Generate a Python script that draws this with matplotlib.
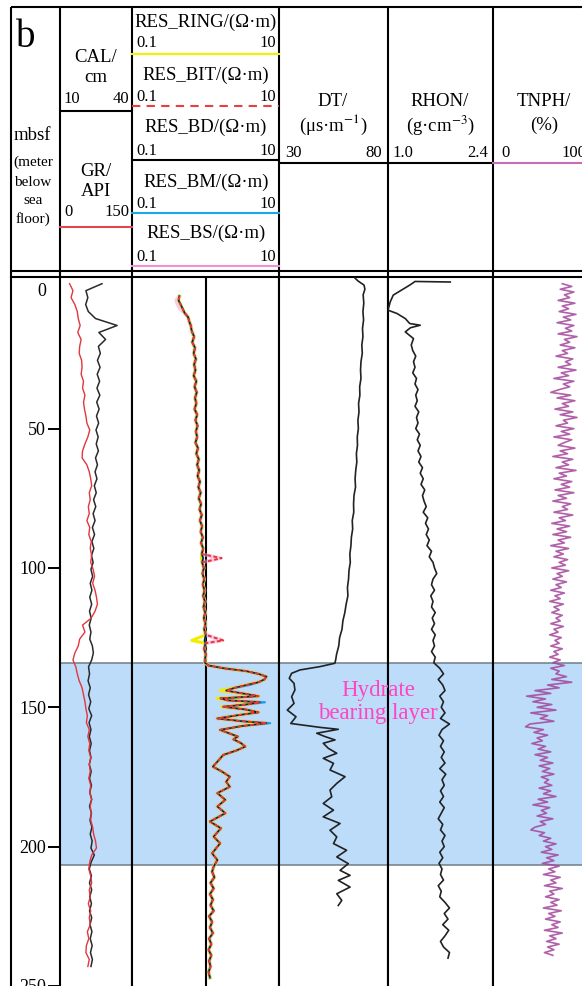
import numpy as np
import matplotlib
matplotlib.use("Agg")
import matplotlib.pyplot as plt

W, H = 582, 986

# ---------------- log data (depth in mbsf) ----------------
# CAL (cm) and GR (API), sampled every 2.5 m
gr_cal_depth = np.arange(-2, 243.5, 2.5)
gr = [20, 27, 23, 31, 36, 38, 42, 37, 44, 41,
      40, 45, 46, 44, 49, 47, 52, 49, 51, 54,
      56, 62, 58, 52, 47, 46, 56, 61, 64, 66,
      61, 63, 59, 61, 56, 62, 60, 65, 63, 66,
      64, 69, 72, 68, 73, 76, 78, 73, 65, 47,
      52, 41, 38, 31, 27, 33, 36, 40, 46, 49,
      52, 54, 57, 55, 61, 58, 62, 60, 64, 61,
      63, 60, 64, 62, 66, 63, 65, 64, 68, 70,
      74, 76, 66, 62, 60, 64, 66, 61, 63, 59,
      64, 61, 63, 57, 60, 55, 54, 61, 58]
cal = [27.5, 20.8, 21.6, 20.7, 21.8, 24.8, 33.8, 26.2, 29.0, 26.0,
       26.8, 25.6, 26.7, 25.5, 26.5, 25.4, 26.6, 25.3, 26.3, 25.2,
       26.1, 25.0, 25.9, 25.1, 26.0, 24.8, 25.6, 24.6, 25.4, 24.3,
       25.1, 24.0, 24.9, 23.8, 24.6, 23.5, 24.4, 23.3, 24.1, 23.1,
       23.8, 22.9, 23.6, 22.6, 23.3, 22.4, 23.2, 22.3, 23.0, 22.2,
       22.9, 22.4, 23.5, 23.9, 23.2, 21.9, 22.3, 21.7, 22.6, 21.9,
       22.8, 22.0, 23.2, 22.1, 22.9, 22.2, 23.0, 22.3, 22.9, 22.2,
       23.0, 22.3, 23.1, 22.4, 23.2, 22.3, 23.1, 22.5, 23.3, 22.6,
       23.4, 22.9, 24.3, 23.0, 22.2, 23.1, 22.3, 23.2, 22.4, 23.1,
       22.3, 23.2, 22.5, 23.3, 22.6, 23.4, 22.7, 23.5, 22.9]

# resistivity (ohm.m); the five tools read almost the same, RES_BD is the base
res_depth = ([2.5, 4, 5.5, 7, 8.5, 10, 11.5, 13] + list(range(15, 96, 2)) + [96.5, 98]
             + list(range(100, 125, 2)) + [126, 127, 129, 131, 133] + list(range(134, 147))
             + [146.8, 147.5, 148.2, 149, 149.8, 150.8, 151.8, 152.8, 154, 155, 155.7, 156.7,
                158.1, 159.3, 160.5, 161.5, 162.8, 164.1, 165.5, 167.1, 169, 171.3, 173,
                174.9, 176.7, 178.5, 180.8, 183.2, 185.6, 188, 191, 193.4, 196.4, 198.8,
                202.4, 204.8, 207.2] + list(range(209, 248, 2)))
res_bd = [0.44, 0.43, 0.46, 0.49, 0.52, 0.58, 0.60, 0.63,
          0.65, 0.70, 0.66, 0.72, 0.69, 0.74, 0.70, 0.73, 0.69, 0.75, 0.71, 0.76, 0.72,
          0.75, 0.71, 0.77, 0.73, 0.78, 0.74, 0.77, 0.73, 0.79, 0.75, 0.81, 0.77, 0.82,
          0.78, 0.84, 0.80, 0.86, 0.81, 0.87, 0.83, 0.89, 0.84, 0.90, 0.86, 0.92, 0.87,
          0.93, 0.89,
          0.93, 0.90,
          0.95, 0.91, 0.96, 0.92, 0.97, 0.93, 0.98, 0.94, 0.99, 0.95, 1.00, 0.96, 1.01,
          0.97, 1.00, 0.96, 1.01, 0.98,
          0.98, 1.10, 1.78, 3.55, 5.25, 6.76, 6.31, 5.25, 3.55, 2.51, 1.91, 3.16, 5.25,
          1.60, 2.00, 5.50, 3.55, 1.74, 3.55, 5.25, 2.82, 1.45, 3.16, 6.76, 3.16,
          1.58, 2.09, 2.75, 2.40, 3.02, 3.47, 2.63, 1.74, 1.51, 1.26, 1.66, 2.14, 1.91,
          2.14, 1.45, 1.86, 1.45, 1.86, 1.15, 1.62, 1.29, 1.58, 1.23, 1.45, 1.29,
          1.23, 1.32, 1.17, 1.29, 1.15, 1.26, 1.17, 1.29, 1.12, 1.23, 1.15, 1.26, 1.12,
          1.20, 1.10, 1.20, 1.12, 1.17, 1.10, 1.15]
# places where the other tools part from RES_BD
res_ring_spots = {96.5: 0.88, 126: 0.65, 144: 1.58, 146.8: 1.45, 149.8: 1.66, 154: 1.45}
res_bit_spots = {96.5: 1.66, 126: 1.74}
res_bm_spots = {142: 3.98, 148.2: 6.46, 155.7: 7.59}
res_bs_spots = {4: 0.40, 5.5: 0.42, 7: 0.45, 96.5: 1.55, 126: 1.70}

# DT (us/m)
dt_depth = ([-4, -3, -1.5, 0, 2] + list(range(5, 132, 3)) + [133]
            + [134.2, 135.4, 136.6, 137.8, 139.6, 141.4, 143.8, 146.2, 148.6, 151, 153.4, 155.8,
               157.2, 157.9, 159.3, 160.5, 161.7, 162.9, 164.7, 166.5, 168.3, 170.1, 172.5,
               174.9, 177.3, 179.7, 182.1, 184.5, 186.9, 189.3, 191.7, 194.1, 196.5, 198.9,
               201.3, 203.7, 206.1, 208.5, 210.3, 212.1, 214.5, 216.9, 219.3, 221.1])
dt = [64.9, 66.2, 69.0, 69.4, 68.6,
      68.9, 68.5, 68.8, 68.3, 68.5, 68.0, 68.2, 67.6, 67.4, 67.6, 67.0, 67.1, 66.5, 66.7,
      66.2, 66.4, 65.9, 66.0, 65.5, 65.7, 65.2, 64.9, 65.1, 64.4, 64.2, 64.3, 63.6, 63.8,
      63.2, 63.0, 62.5, 62.7, 62.1, 61.9, 61.4, 61.6, 60.8, 60.2, 59.3, 58.9, 57.8, 57.4,
      56.4, 56.0,
      55.6, 48.8, 39.6, 35.8, 34.7, 36.9, 37.3, 35.8, 36.9, 33.8, 37.8, 35.4,
      48.8, 57.2, 47.3, 51.1, 55.7, 50.3, 52.6, 56.5, 50.3, 55.0, 53.4, 60.3, 56.5, 53.4,
      54.2, 50.3, 55.0, 50.3, 58.0, 53.4, 56.5, 55.0, 61.0, 56.5, 61.8, 58.0, 62.6, 57.2,
      62.6, 56.5, 58.8, 57.2]

# RHON (g/cm3)
rhon_depth = ([-2.6, -2.8, -2.4, -1.5, 0.3, 2.1, 4.5, 7.5, 8.7, 10.5, 12.3, 12.9, 13.8, 15.3, 17.7]
              + list(range(20, 241, 2)))
rhon = [1.83, 1.36, 1.34, 1.29, 1.18, 1.07, 1.03, 1.00, 1.12, 1.23, 1.29, 1.43, 1.30, 1.23, 1.34,
        1.31, 1.33, 1.37, 1.34, 1.36, 1.33, 1.38, 1.36, 1.40, 1.37,
        1.39, 1.36, 1.41, 1.38, 1.40, 1.37, 1.42, 1.39, 1.43, 1.40,
        1.44, 1.41, 1.46, 1.43, 1.47, 1.44, 1.49, 1.46, 1.48, 1.51,
        1.47, 1.53, 1.50, 1.54, 1.51, 1.55, 1.52, 1.58, 1.55, 1.60,
        1.62, 1.65, 1.60, 1.58, 1.62, 1.57, 1.60, 1.58, 1.63, 1.59,
        1.62, 1.58, 1.63, 1.60, 1.62, 1.58, 1.63, 1.61, 1.69, 1.74,
        1.67, 1.73, 1.76, 1.69, 1.74, 1.71, 1.76, 1.70, 1.82, 1.72,
        1.68, 1.74, 1.70, 1.75, 1.71, 1.76, 1.69, 1.77, 1.72, 1.75,
        1.70, 1.74, 1.69, 1.75, 1.71, 1.67, 1.73, 1.70, 1.76, 1.72,
        1.75, 1.69, 1.73, 1.68, 1.72, 1.70, 1.74, 1.67, 1.71, 1.69,
        1.76, 1.82, 1.75, 1.80, 1.73, 1.81, 1.76, 1.70, 1.74, 1.82,
        1.80]

# TNPH (%), every 1 m
tnph_depth = np.arange(-2, 239.5, 1)
tnph = [66, 75, 64, 77, 68, 73, 62, 78, 66, 72,
        63, 79, 67, 74, 61, 77, 69, 75, 62, 80,
        68, 73, 64, 78, 66, 71, 60, 76, 69, 74,
        62, 79, 65, 72, 58, 77, 67, 73, 63, 55,
        74, 61, 78, 66, 72, 59, 76, 64, 80, 67,
        71, 60, 77, 65, 73, 58, 75, 68, 62, 78,
        64, 71, 57, 76, 66, 72, 60, 79, 63, 70,
        58, 75, 65, 73, 59, 77, 62, 70, 57, 74,
        66, 71, 58, 76, 63, 69, 56, 73, 61, 70,
        57, 74, 62, 68, 55, 72, 60, 67, 58, 71,
        63, 69, 56, 72, 61, 66, 57, 70, 60, 65,
        55, 68, 59, 64, 54, 67, 58, 63, 56, 66,
        60, 64, 55, 67, 58, 62, 54, 65, 59, 63,
        55, 66, 58, 62, 54, 64, 57, 68, 55, 63,
        60, 70, 56, 75, 52, 63, 40, 55, 32, 50,
        38, 56, 42, 60, 36, 52, 45, 58, 35, 31,
        48, 39, 52, 42, 47, 37, 50, 43, 55, 40,
        52, 45, 57, 44, 54, 47, 58, 46, 53, 49,
        56, 44, 55, 48, 60, 43, 52, 38, 54, 46,
        51, 42, 57, 45, 50, 40, 36, 49, 44, 55,
        48, 60, 50, 56, 46, 62, 51, 58, 47, 63,
        53, 59, 48, 64, 55, 60, 49, 66, 54, 58,
        50, 63, 55, 61, 48, 65, 53, 59, 50, 64,
        56, 62, 49, 66, 54, 60, 51, 63, 52, 58,
        49, 57]

hydrate_top, hydrate_base = 134.1, 206.6
depth_ticks = [0, 50, 100, 150, 200, 250]


def px_axes(fig, x0, y0, x1, y1):
    return fig.add_axes([x0 / W, 1 - y1 / H, (x1 - x0) / W, (y1 - y0) / H])


def track(fig, x0, x1, xlim, log=False):
    ax = px_axes(fig, x0, 277, x1, 986)
    if log:
        ax.set_xscale("log")
    ax.set_xlim(*xlim)
    ax.set_ylim(250, -4.4)
    ax.xaxis.set_major_locator(plt.NullLocator())
    ax.xaxis.set_minor_locator(plt.NullLocator())
    ax.tick_params(left=False, labelleft=False, bottom=False, labelbottom=False)
    for s in ["left", "right", "top"]:
        ax.spines[s].set_linewidth(1.5)
    ax.spines["bottom"].set_visible(False)
    ax.axhspan(hydrate_top, hydrate_base, color="#bcdcfa", lw=0, zorder=0)
    for d in (hydrate_top, hydrate_base):
        ax.axhline(d, color="#6f7d88", lw=1.1, zorder=1)
    return ax


def main():
    plt.rcParams["font.family"] = ["Liberation Serif", "DejaVu Serif"]
    plt.rcParams["mathtext.fontset"] = "stix"
    fig = plt.figure(figsize=(W / 100, H / 100), dpi=100)

    # depth column
    dep = px_axes(fig, 11, 277, 60, 986)
    dep.set_ylim(250, -4.4)
    dep.set_xticks([])
    dep.set_yticks([])
    dep.spines["left"].set_linewidth(1.5)
    dep.spines["top"].set_linewidth(1.5)
    dep.spines["right"].set_visible(False)
    dep.spines["bottom"].set_visible(False)

    # CAL / GR
    ax_cal = track(fig, 60, 132, (10, 40))
    ax_cal.plot(cal, gr_cal_depth, color="#2a2a2a", lw=1.1, zorder=3)
    ax_gr = ax_cal.twiny()
    ax_gr.set_xlim(0, 150)
    ax_gr.set_ylim(250, -4.4)
    ax_gr.axis("off")
    ax_gr.plot(gr, gr_cal_depth, color="#e2363c", lw=1.0)
    ax_cal.set_yticks(depth_ticks)
    ax_cal.set_yticklabels([str(t) for t in depth_ticks])
    ax_cal.tick_params(axis="y", left=True, labelleft=True, direction="out",
                       length=8.6, width=1.4, pad=1.5, labelsize=13)
    ax_cal.yaxis.get_major_ticks()[0].tick1line.set_visible(False)

    # resistivity
    ax_res = track(fig, 132, 279, (0.1, 10), log=True)
    ax_res.axvline(1, color="k", lw=1.5, zorder=2)
    ring = [res_ring_spots.get(d, v) for d, v in zip(res_depth, res_bd)]
    bit = [res_bit_spots.get(d, v) for d, v in zip(res_depth, res_bd)]
    bm = [res_bm_spots.get(d, v) for d, v in zip(res_depth, res_bd)]
    bs = [res_bs_spots.get(d, v) for d, v in zip(res_depth, res_bd)]
    ax_res.plot(bs, res_depth, color="#f7a0d8", lw=2.8, alpha=0.55, zorder=3)
    ax_res.plot(ring, res_depth, color="#f2ec00", lw=2.2, zorder=4)
    ax_res.plot(bm, res_depth, color="#1e9be6", lw=1.5, zorder=5)
    ax_res.plot(res_bd, res_depth, color="#1a1a1a", lw=1.0, zorder=6)
    ax_res.plot(bit, res_depth, color="#e53935", lw=1.4, dashes=(2.0, 1.2), zorder=7)

    # DT, RHON, TNPH
    ax_dt = track(fig, 279, 388, (30, 80))
    ax_dt.plot(dt, dt_depth, color="#222222", lw=1.2, zorder=3)
    ax_rh = track(fig, 388, 493, (1.0, 2.4))
    ax_rh.plot(rhon, rhon_depth, color="#222222", lw=1.2, zorder=3)
    ax_tn = track(fig, 493, 598, (0, 100))
    ax_tn.plot(tnph, tnph_depth, color="#a3459a", lw=1.2, alpha=0.85, zorder=3)

    # header drawn in pixel coordinates
    hdr = fig.add_axes([0, 0, 1, 1])
    hdr.set_xlim(0, W)
    hdr.set_ylim(H, 0)
    hdr.axis("off")
    k = dict(color="k", lw=1.5, solid_capstyle="butt")
    hdr.plot([11, 598], [7, 7], **k)
    hdr.plot([11, 598], [271, 271], **k)
    for x in [11, 60, 132, 279, 388, 493]:
        hdr.plot([x, x], [7, 277], **k)
    hdr.plot([60, 132], [111, 111], **k)
    hdr.plot([60, 132], [227, 227], color="#e0474c", lw=1.5)
    hdr.plot([132, 279], [54, 54], color="#f5f000", lw=1.5)
    hdr.plot([132, 279], [106, 106], color="#e8413c", lw=1.5, dashes=(4, 3))
    hdr.plot([132, 279], [160, 160], **k)
    hdr.plot([132, 279], [213, 213], color="#1ea5e8", lw=1.5)
    hdr.plot([132, 279], [266, 266], color="#f58ed6", lw=1.5)
    hdr.plot([279, 493], [163, 163], **k)
    hdr.plot([493, 598], [163, 163], color="#c86cb8", lw=1.5)

    big, num = 13.5, 12
    hdr.text(16, 47, "b", fontsize=28, ha="left", va="baseline")
    hdr.text(32, 135, "mbsf", fontsize=big, ha="center", va="center")
    for yy, s in zip([162, 182, 200, 219], ["(meter", "below", "sea", "floor)"]):
        hdr.text(33, yy, s, fontsize=11, ha="center", va="center")

    hdr.text(96, 57, "CAL/", fontsize=big, ha="center", va="center")
    hdr.text(96, 78, "cm", fontsize=big, ha="center", va="center")
    hdr.text(63, 99, "10", fontsize=num, ha="left", va="center")
    hdr.text(129, 99, "40", fontsize=num, ha="right", va="center")
    hdr.text(96, 172, "GR/", fontsize=big, ha="center", va="center")
    hdr.text(96, 191, "API", fontsize=big, ha="center", va="center")
    hdr.text(64, 212, "0", fontsize=num, ha="left", va="center")
    hdr.text(129, 212, "150", fontsize=num, ha="right", va="center")

    res_names = ["RES_RING", "RES_BIT", "RES_BD", "RES_BM", "RES_BS"]
    for name, ty, ny in zip(res_names, [22, 75, 127, 182, 233], [43, 97, 151, 204, 257]):
        hdr.text(206, ty, name + "/(\u03a9\u00b7m)", fontsize=big, ha="center", va="center")
        hdr.text(136, ny, "0.1", fontsize=num, ha="left", va="center")
        hdr.text(276, ny, "10", fontsize=num, ha="right", va="center")

    hdr.text(333, 101, "DT/", fontsize=big, ha="center", va="center")
    hdr.text(333, 125, "(\u03bcs\u00b7m$^{-1}$)", fontsize=big, ha="center", va="center")
    hdr.text(285, 153, "30", fontsize=num, ha="left", va="center")
    hdr.text(382, 153, "80", fontsize=num, ha="right", va="center")
    hdr.text(440, 101, "RHON/", fontsize=big, ha="center", va="center")
    hdr.text(440, 125, "(g\u00b7cm$^{-3}$)", fontsize=big, ha="center", va="center")
    hdr.text(392, 153, "1.0", fontsize=num, ha="left", va="center")
    hdr.text(488, 153, "2.4", fontsize=num, ha="right", va="center")
    hdr.text(544, 101, "TNPH/", fontsize=big, ha="center", va="center")
    hdr.text(544, 125, "(%)", fontsize=big, ha="center", va="center")
    hdr.text(501, 153, "0", fontsize=num, ha="left", va="center")
    hdr.text(561, 153, "100", fontsize=num, ha="left", va="center")

    hdr.text(378, 702, "Hydrate\nbearing layer", color="#ff45c1", fontsize=16.5,
             ha="center", va="center", linespacing=1.1)

    fig.savefig("out.png", dpi=100)
    plt.close(fig)


if __name__ == "__main__":
    main()
